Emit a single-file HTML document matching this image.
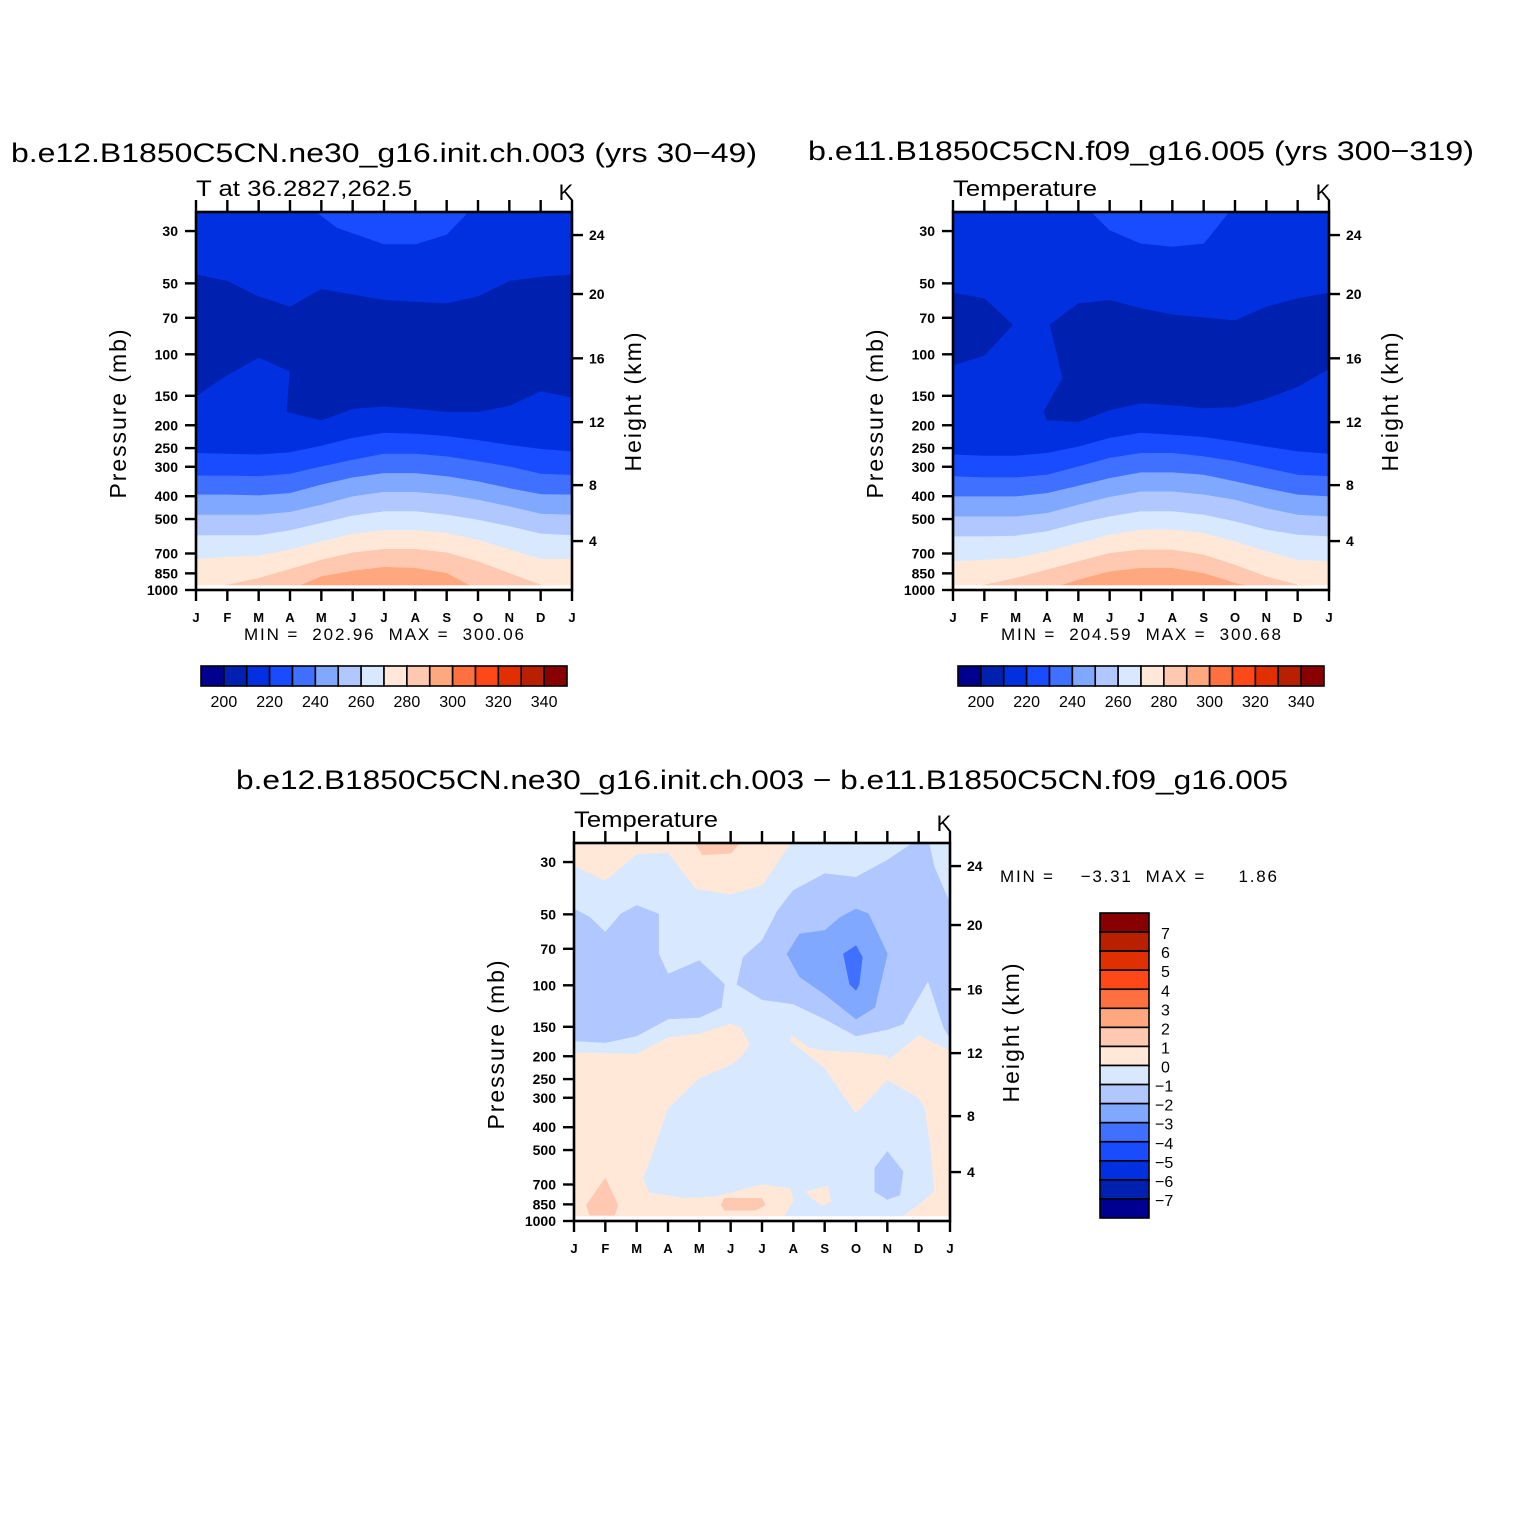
<!DOCTYPE html>
<html><head><meta charset="utf-8">
<style>
html,body{margin:0;padding:0;background:#fff;}
svg{display:block;font-family:"Liberation Sans",sans-serif;}
</style></head>
<body>
<svg id="fig" width="1525" height="1528" viewBox="0 0 1525 1528" xmlns="http://www.w3.org/2000/svg">
<rect width="1525" height="1528" fill="#fff"/>
</svg>
<script>
// ---- shared data ----
const months = ["J","F","M","A","M","J","J","A","S","O","N","D","J"];
const pressTicks = [30,50,70,100,150,200,250,300,400,500,700,850,1000];
const heightTicks = [4,8,12,16,20,24];
const heightTickPress = [620,359,194,104,55.5,31.2];
const palette = ["#000090","#0020b0","#0030e0","#1a4cff","#4070ff","#80a8ff","#b0c8ff","#d8e8ff","#ffe8d8","#ffc8b0","#ffa880","#ff7040","#ff4818","#e03000","#b82000","#880000"];
const cbLabelsAbs = ["200","220","240","260","280","300","320","340"];
const cbLabelsDiff = ["7","6","5","4","3","2","1","0","\u22121","\u22122","\u22123","\u22124","\u22125","\u22126","\u22127"];

// ---- plot 1 data (isotherm pressure per month, mb) ----
const p1Levels = [220,230,240,250,260,270,280,290];
const p1Iso220 = [263,265,267,261,245,227,216,218,223,232,243,253,259];
const p1Iso230 = [328,328,330,322,300,281,265,265,272,285,300,322,326];
const p1Iso240 = [395,395,398,389,358,334,320,320,330,347,371,393,395];
const p1Iso250 = [481,481,481,468,436,402,385,385,395,415,443,476,481];
const p1Iso260 = [588,588,588,560,521,485,465,465,481,505,538,578,588];
const p1Iso270 = [741,726,717,676,624,580,560,560,575,614,676,741,741];
const p1Iso280 = [1000,952,892,817,746,695,672,672,695,758,850,952,968];
const p1Iso290 = [1000,1000,1000,1000,878,831,801,809,850,1000,1000,1000,1000];
const p1WarmTop = [[3.7,24],[4.5,29],[6,34],[7,34],[8,31],[8.8,24]];
const p1Cold = [[0,46],[1,49],[2,57],[3,63],[4,53],[5,56],[6,59],[7,60],[8,61],[9,57],[10,49],[11,47],[12,46],
  [12,152],[11,143],[10,165],[9,175],[8,175],[7,170],[6,166],[5,170],[4,190],[2.9,175],[3,118],[2,103],[1,122],[0,150]];

// ---- plot 2 data ----
const p2Iso220 = [267,270,270,263,247,227,216,220,225,235,247,259,265];
const p2Iso230 = [330,334,334,325,300,276,263,263,272,285,305,325,330];
const p2Iso240 = [402,402,402,389,362,336,318,318,325,347,371,395,402];
const p2Iso250 = [489,489,489,473,436,404,383,383,395,415,451,481,489];
const p2Iso260 = [594,594,590,565,521,489,465,465,481,513,556,585,594];
const p2Iso270 = [758,746,734,688,634,585,556,556,575,624,688,746,758];
const p2Iso280 = [1000,953,892,822,758,699,676,676,710,784,878,953,968];
const p2Iso290 = [1000,1000,1000,1000,907,836,809,809,850,937,1000,1000,1000];
const p2WarmTop = [[4.3,24],[5,29.7],[6,33.8],[7,34.9],[8,33.8],[8.9,24]];
const p2ColdLeft = [[0,55],[1,58],[1.9,75],[1,101],[0,111]];
const p2ColdMain = [[3.1,75],[4,61],[5,59],[6,64],[7,68],[8,70],[9,72],[10,63],[11,58],[12,55],
  [12,115],[11,137],[10,154],[9,167],[8,169],[7,164],[6,161],[5,172],[4,193],[3,190],[2.9,175],[3.5,126]];

// ---- plot 3 data (difference contour regions: [month, mb]) ----
const d3PosTop = [[0,24],[0,31],[1,36],[2,27.7],[3,27.3],[3.9,39],[5,41],[6,37.5],[7,24]];
const d3PosTopCore = [[3.8,24],[4.1,28],[5,27.5],[5.4,24]];
const d3PosLeft = [[0,193],[2,196],[3,167],[4,161],[5,146],[5.3,151],[5.6,178],[5.4,196],[5,217],[4,247],[3,331],[2.4,559],[2.2,658],[2.4,760],[3.5,800],[4.5,790],[6,700],[6.9,730],[7,820],[6.6,1000],[0,1000]];
const d3PosRight = [[6.95,164],[7.5,184],[8,190],[9,193],[10,200],[10,210],[11,164],[12,190],[12,1000],[10.3,1000],[11,855],[11.5,750],[11.4,507],[11.2,331],[11,300],[10,251],[9,348],[8,224],[7.2,184],[6.9,172]];
const d3PosSmall = [[7.4,750],[8.1,714],[8.2,828],[7.9,855],[7.6,800]];
const d3Pos1a = [[0.4,855],[1,658],[1.4,855],[1.3,945],[0.5,945]];
const d3Pos1b = [[4.8,801],[6,801],[6.1,855],[5.8,900],[4.8,900],[4.7,855]];
const d3NegLeft = [[0,47.4],[0.5,51.4],[1,59.6],[1.5,49.8],[2,45.8],[2.7,49.8],[2.7,73.6],[3,89.6],[4,78.6],[4.8,98.9],[4.7,124],[4,137],[3,139],[2,164],[1,175],[0,172]];
const d3NegRight = [[5.2,98.9],[5.4,76],[6,64.6],[6.5,48.2],[7,39.6],[8,33.6],[9,34.8],[10,29.5],[11,24],[11.3,24],[11.5,31.5],[12,45.1],[12,167],[11.8,151],[11.3,95.7],[10.5,146],[10,154],[9,164],[8,139],[7,120],[6,115]];
const d3NegSmall = [[9.6,597],[10,507],[10.5,617],[10.4,775],[10,810],[9.6,750]];
const d3Neg2 = [[6.8,73.6],[7.2,60.5],[8,58.6],[8.5,51.4],[9,47.4],[9.4,49.8],[10,73.6],[9.6,124],[9,139],[8,109],[7.2,92]];
const d3Neg3 = [[8.6,73.6],[9,67.9],[9.2,76],[9.1,98.9],[9,105],[8.8,98.9]];

const NS = "http://www.w3.org/2000/svg";
const fig = document.getElementById("fig");
function mk(tag, attrs, parent){
  const e = document.createElementNS(NS, tag);
  for (const k in attrs) e.setAttribute(k, attrs[k]);
  (parent||fig).appendChild(e);
  return e;
}
function txt(s, attrs, parent){ const t = mk("text", attrs, parent); t.textContent = s; return t; }

function makePlot(id, x0, x1, yBot, topLeftLabel, subW){
  const yTop = yBot - 378;
  const dec = 235.7;
  const X = m => x0 + (x1-x0)*m/12;
  const Y = p => yBot - dec*Math.log10(1000/p);
  const g = mk("g", {});
  
  
  const cp = mk("clipPath", {id: id+"-clip"}, g);
  mk("rect", {x:x0, y:yTop, width:x1-x0, height:yBot-yTop}, cp);
  const area = mk("g", {"clip-path":"url(#"+id+"-clip)"}, g);
  
  
  const api = {
    base(col){ const r = mk("rect",{x:x0,y:yTop,width:x1-x0,height:yBot-yTop,fill:col},area);
        },
    poly(pts, col, name){
      const s = pts.map(q => X(q[0]).toFixed(1)+","+Y(q[1]).toFixed(1)).join(" ");
      const e = mk("polygon",{points:s, fill:col, stroke:col, "stroke-width":0.6},area);
      
      
    },
    band(arr, col, name){
      const pts = arr.map((p,i)=>[i,p]); pts.push([12,1000],[0,1000]);
      api.poly(pts, col, name);
    },
    finish(){
      const ws = mk("rect",{x:x0,y:Y(955),width:x1-x0,height:yBot-Y(955),fill:"#fff"},area);
       
      const fr = mk("rect",{x:x0,y:yTop,width:x1-x0,height:yBot-yTop,fill:"none",stroke:"#000","stroke-width":2.6},g);
       
      months.forEach((m,i)=>{
        const x = X(i);
        mk("line",{x1:x,x2:x,y1:yBot,y2:yBot+11,stroke:"#000","stroke-width":2.4},g);
        mk("line",{x1:x,x2:x,y1:yTop,y2:yTop-12,stroke:"#000","stroke-width":2.4},g);
        const t = txt(m,{x:x,y:yBot+32,"font-size":13,"font-weight":"bold","text-anchor":"middle"},g);
         
      });
      pressTicks.forEach(p=>{
        const y = Y(p);
        mk("line",{x1:x0-11,x2:x0,y1:y,y2:y,stroke:"#000","stroke-width":2.4},g);
        const t = txt(String(p),{x:x0-18,y:y+5,"font-size":14,"font-weight":"bold","text-anchor":"end"},g);
         
      });
      heightTicks.forEach((h,i)=>{
        const y = Y(heightTickPress[i]);
        mk("line",{x1:x1,x2:x1+11,y1:y,y2:y,stroke:"#000","stroke-width":2.4},g);
        const t = txt(String(h),{x:x1+17,y:y+5,"font-size":14,"font-weight":"bold"},g);
         
      });
      const yl = txt("Pressure (mb)",{x:0,y:0,"font-size":23,"text-anchor":"middle",textLength:169,lengthAdjust:"spacing",transform:`translate(${x0-70},${(yTop+yBot)/2+13}) rotate(-90)`},g);
       
      const yr = txt("Height (km)",{x:0,y:0,"font-size":23,"text-anchor":"middle",textLength:139,lengthAdjust:"spacing",transform:`translate(${x1+69},${(yTop+yBot)/2+1}) rotate(-90)`},g);
       
      const st = txt(topLeftLabel,{x:x0,y:yTop-16,"font-size":22,textLength:subW,lengthAdjust:"spacingAndGlyphs"},g);
       
      const k = txt("K",{x:x1-6,y:yTop-12,"font-size":22,"text-anchor":"middle"},g);
       
    }
  };
  return api;
}

function title(s, cx, y, w, name){
  const t = txt(s,{x:cx, y:y, "font-size":27, "text-anchor":"middle", textLength:w, lengthAdjust:"spacingAndGlyphs"});
  
  
}
title("b.e12.B1850C5CN.ne30_g16.init.ch.003 (yrs 30\u221249)", 384, 162, 746, "left-plot-title");
title("b.e11.B1850C5CN.f09_g16.005 (yrs 300\u2212319)", 1141, 160, 666, "right-plot-title");
title("b.e12.B1850C5CN.ne30_g16.init.ch.003 \u2212 b.e11.B1850C5CN.f09_g16.005", 762, 789, 1052, "difference-plot-title");

// ---- plot 1 ----
const P1 = makePlot("plot-case1", 196, 572, 590, "T at 36.2827,262.5", 216);
P1.base(palette[2]);
P1.poly(p1WarmTop, palette[3], "contour-220-230-top");
P1.poly(p1Cold, palette[1], "contour-200-210");
[p1Iso220,p1Iso230,p1Iso240,p1Iso250,p1Iso260,p1Iso270,p1Iso280,p1Iso290].forEach((a,i)=>P1.band(a, palette[3+i], "contour-band-"+p1Levels[i]));
P1.finish();

// ---- plot 2 ----
const P2 = makePlot("plot-case2", 953, 1329, 590, "Temperature", 144);
P2.base(palette[2]);
P2.poly(p2WarmTop, palette[3], "contour-220-230-top");
P2.poly(p2ColdLeft, palette[1], "contour-200-210-left");
P2.poly(p2ColdMain, palette[1], "contour-200-210-main");
[p2Iso220,p2Iso230,p2Iso240,p2Iso250,p2Iso260,p2Iso270,p2Iso280,p2Iso290].forEach((a,i)=>P2.band(a, palette[3+i], "contour-band-"+p1Levels[i]));
P2.finish();

// ---- plot 3 ----
const P3 = makePlot("plot-difference", 574, 950, 1221, "Temperature", 144);
P3.base(palette[7]);
P3.poly(d3PosTop, palette[8], "contour-pos-top");
P3.poly(d3PosTopCore, palette[9], "contour-pos1-top");
P3.poly(d3PosLeft, palette[8], "contour-pos-left");
P3.poly(d3PosRight, palette[8], "contour-pos-right");
P3.poly(d3PosSmall, palette[8], "contour-pos-small");
P3.poly(d3Pos1a, palette[9], "contour-pos1-a");
P3.poly(d3Pos1b, palette[9], "contour-pos1-b");
P3.poly(d3NegLeft, palette[6], "contour-neg1-left");
P3.poly(d3NegRight, palette[6], "contour-neg1-right");
P3.poly(d3NegSmall, palette[6], "contour-neg1-small");
P3.poly(d3Neg2, palette[5], "contour-neg2");
P3.poly(d3Neg3, palette[4], "contour-neg3");
P3.finish();

// ---- min/max ----
function note(s,x,y,w,name,anchor){
  const t = txt(s,{x:x,y:y,"font-size":17,"text-anchor":anchor||"middle",style:"white-space:pre",textLength:w,lengthAdjust:"spacing"});
   
}
note("MIN =  202.96  MAX =  300.06", 384, 640, 280, "min-max-case1");
note("MIN =  204.59  MAX =  300.68", 1141, 640, 280, "min-max-case2");
note("MIN =    \u22123.31  MAX =     1.86", 1000, 882, 277, "min-max-difference", "start");

// ---- horizontal colorbars ----
function hbar(x0, name){
  const g = mk("g",{});
   
  const w = 366/16;
  palette.forEach((c,i)=>{
    const r = mk("rect",{x:x0+i*w,y:666,width:w,height:20,fill:c,stroke:"#000","stroke-width":1.6},g);
     
  });
  cbLabelsAbs.forEach((l,i)=>{
    const t = txt(l,{x:x0+w*(1+2*i),y:707,"font-size":16,"text-anchor":"middle"},g);
     
  });
}
hbar(201, "colorbar-case1");
hbar(958, "colorbar-case2");

// ---- vertical colorbar ----
(function(){
  const g = mk("g",{});
   
  const h = 305/16;
  palette.slice().reverse().forEach((c,i)=>{
    const r = mk("rect",{x:1100,y:913+i*h,width:49,height:h,fill:c,stroke:"#000","stroke-width":1.6},g);
     
  });
  cbLabelsDiff.forEach((l,i)=>{
    const t = txt(l,{x:l.length>1?1155:1161,y:913+h*(i+1)+7,"font-size":16},g);
     
  });
})();
</script>
</body></html>
